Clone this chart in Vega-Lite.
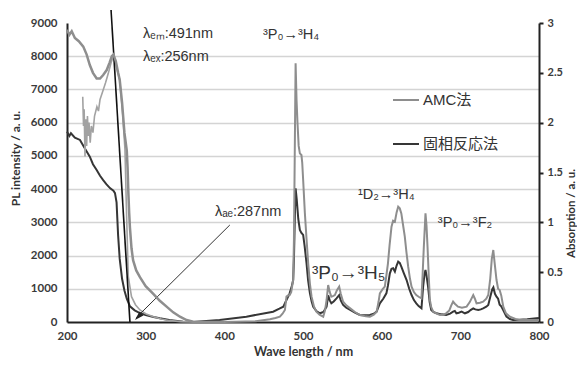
{
  "$schema": "https://vega.github.io/schema/vega-lite/v6.json",
  "width": 472,
  "height": 299,
  "autosize": {"type": "none"},
  "padding": {"left": 67, "top": 23, "right": 38, "bottom": 43},
  "background": "white",
  "config": {"view": {"stroke": null}, "font": "Liberation Sans"},
  "datasets": {
    "pl": [
      {"curve":"ex_ss","series":"固相反応法","x":200,"y":5730},{"curve":"ex_ss","series":"固相反応法","x":203,"y":5600},{"curve":"ex_ss","series":"固相反応法","x":205,"y":5680},{"curve":"ex_ss","series":"固相反応法","x":210,"y":5550},{"curve":"ex_ss","series":"固相反応法","x":216.5,"y":5480},{"curve":"ex_ss","series":"固相反応法","x":222,"y":5250},{"curve":"ex_ss","series":"固相反応法","x":229,"y":4976},{"curve":"ex_ss","series":"固相反応法","x":233,"y":4750},{"curve":"ex_ss","series":"固相反応法","x":237.7,"y":4575},{"curve":"ex_ss","series":"固相反応法","x":242,"y":4400},{"curve":"ex_ss","series":"固相反応法","x":246,"y":4270},{"curve":"ex_ss","series":"固相反応法","x":250,"y":4150},{"curve":"ex_ss","series":"固相反応法","x":254.6,"y":4030},{"curve":"ex_ss","series":"固相反応法","x":259,"y":3950},{"curve":"ex_ss","series":"固相反応法","x":261,"y":3880},{"curve":"ex_ss","series":"固相反応法","x":263,"y":3600},{"curve":"ex_ss","series":"固相反応法","x":265,"y":2600},{"curve":"ex_ss","series":"固相反応法","x":267,"y":1900},{"curve":"ex_ss","series":"固相反応法","x":270,"y":1300},{"curve":"ex_ss","series":"固相反応法","x":273,"y":950},{"curve":"ex_ss","series":"固相反応法","x":276,"y":700},{"curve":"ex_ss","series":"固相反応法","x":280,"y":470},{"curve":"ex_ss","series":"固相反応法","x":286,"y":350},{"curve":"ex_ss","series":"固相反応法","x":292.7,"y":270},{"curve":"ex_ss","series":"固相反応法","x":300,"y":210},{"curve":"ex_ss","series":"固相反応法","x":310,"y":150},{"curve":"ex_ss","series":"固相反応法","x":318,"y":110},{"curve":"ex_ss","series":"固相反応法","x":330,"y":60},{"curve":"ex_ss","series":"固相反応法","x":348,"y":10},{"curve":"ex_ss","series":"固相反応法","x":370,"y":0},
      {"curve":"em_ss","series":"固相反応法","x":360,"y":0},{"curve":"em_ss","series":"固相反応法","x":394,"y":60},{"curve":"em_ss","series":"固相反応法","x":428,"y":160},{"curve":"em_ss","series":"固相反応法","x":462,"y":310},{"curve":"em_ss","series":"固相反応法","x":470,"y":400},{"curve":"em_ss","series":"固相反応法","x":475,"y":461},{"curve":"em_ss","series":"固相反応法","x":479,"y":662},{"curve":"em_ss","series":"固相反応法","x":483,"y":863},{"curve":"em_ss","series":"固相反応法","x":486,"y":1100},{"curve":"em_ss","series":"固相反応法","x":487.5,"y":1264},{"curve":"em_ss","series":"固相反応法","x":488.5,"y":1900},{"curve":"em_ss","series":"固相反応法","x":489.5,"y":3000},{"curve":"em_ss","series":"固相反応法","x":490.6,"y":4024},{"curve":"em_ss","series":"固相反応法","x":492,"y":3700},{"curve":"em_ss","series":"固相反応法","x":494,"y":3100},{"curve":"em_ss","series":"固相反応法","x":496,"y":2770},{"curve":"em_ss","series":"固相反応法","x":498,"y":2680},{"curve":"em_ss","series":"固相反応法","x":500.2,"y":2620},{"curve":"em_ss","series":"固相反応法","x":502,"y":2300},{"curve":"em_ss","series":"固相反応法","x":504.5,"y":1766},{"curve":"em_ss","series":"固相反応法","x":506.5,"y":1250},{"curve":"em_ss","series":"固相反応法","x":508.8,"y":863},{"curve":"em_ss","series":"固相反応法","x":511,"y":620},{"curve":"em_ss","series":"固相反応法","x":513,"y":461},{"curve":"em_ss","series":"固相反応法","x":517,"y":330},{"curve":"em_ss","series":"固相反応法","x":521.5,"y":262},{"curve":"em_ss","series":"固相反応法","x":526,"y":300},{"curve":"em_ss","series":"固相反応法","x":530,"y":461},{"curve":"em_ss","series":"固相反応法","x":532,"y":800},{"curve":"em_ss","series":"固相反応法","x":534,"y":650},{"curve":"em_ss","series":"固相反応法","x":536,"y":562},{"curve":"em_ss","series":"固相反応法","x":539,"y":620},{"curve":"em_ss","series":"固相反応法","x":542.6,"y":712},{"curve":"em_ss","series":"固相反応法","x":546,"y":812},{"curve":"em_ss","series":"固相反応法","x":548,"y":650},{"curve":"em_ss","series":"固相反応法","x":551,"y":512},{"curve":"em_ss","series":"固相反応法","x":555,"y":430},{"curve":"em_ss","series":"固相反応法","x":560,"y":361},{"curve":"em_ss","series":"固相反応法","x":566,"y":280},{"curve":"em_ss","series":"固相反応法","x":572.3,"y":211},{"curve":"em_ss","series":"固相反応法","x":580,"y":200},{"curve":"em_ss","series":"固相反応法","x":585,"y":211},{"curve":"em_ss","series":"固相反応法","x":590,"y":250},{"curve":"em_ss","series":"固相反応法","x":593.6,"y":311},{"curve":"em_ss","series":"固相反応法","x":597.7,"y":562},{"curve":"em_ss","series":"固相反応法","x":602,"y":700},{"curve":"em_ss","series":"固相反応法","x":606,"y":863},{"curve":"em_ss","series":"固相反応法","x":608,"y":1100},{"curve":"em_ss","series":"固相反応法","x":610.4,"y":1465},{"curve":"em_ss","series":"固相反応法","x":612.5,"y":1600},{"curve":"em_ss","series":"固相反応法","x":614.6,"y":1616},{"curve":"em_ss","series":"固相反応法","x":616.8,"y":1516},{"curve":"em_ss","series":"固相反応法","x":619,"y":1700},{"curve":"em_ss","series":"固相反応法","x":621,"y":1816},{"curve":"em_ss","series":"固相反応法","x":623,"y":1780},{"curve":"em_ss","series":"固相反応法","x":625,"y":1666},{"curve":"em_ss","series":"固相反応法","x":628,"y":1480},{"curve":"em_ss","series":"固相反応法","x":631.7,"y":1264},{"curve":"em_ss","series":"固相反応法","x":635,"y":1000},{"curve":"em_ss","series":"固相反応法","x":638,"y":812},{"curve":"em_ss","series":"固相反応法","x":641,"y":660},{"curve":"em_ss","series":"固相反応法","x":644,"y":562},{"curve":"em_ss","series":"固相反応法","x":647,"y":480},{"curve":"em_ss","series":"固相反応法","x":650.6,"y":411},{"curve":"em_ss","series":"固相反応法","x":652.7,"y":1064},{"curve":"em_ss","series":"固相反応法","x":654.5,"y":1450},{"curve":"em_ss","series":"固相反応法","x":655.7,"y":1566},{"curve":"em_ss","series":"固相反応法","x":657,"y":1400},{"curve":"em_ss","series":"固相反応法","x":659,"y":1064},{"curve":"em_ss","series":"固相反応法","x":661,"y":600},{"curve":"em_ss","series":"固相反応法","x":663,"y":361},{"curve":"em_ss","series":"固相反応法","x":666,"y":300},{"curve":"em_ss","series":"固相反応法","x":669.7,"y":262},{"curve":"em_ss","series":"固相反応法","x":676,"y":230},{"curve":"em_ss","series":"固相反応法","x":682,"y":211},{"curve":"em_ss","series":"固相反応法","x":687,"y":250},{"curve":"em_ss","series":"固相反応法","x":690.8,"y":311},{"curve":"em_ss","series":"固相反応法","x":693,"y":330},{"curve":"em_ss","series":"固相反応法","x":695,"y":262},{"curve":"em_ss","series":"固相反応法","x":698,"y":280},{"curve":"em_ss","series":"固相反応法","x":701.6,"y":311},{"curve":"em_ss","series":"固相反応法","x":705.8,"y":262},{"curve":"em_ss","series":"固相反応法","x":710,"y":300},{"curve":"em_ss","series":"固相反応法","x":713,"y":360},{"curve":"em_ss","series":"固相反応法","x":716.4,"y":411},{"curve":"em_ss","series":"固相反応法","x":719,"y":380},{"curve":"em_ss","series":"固相反応法","x":722.8,"y":361},{"curve":"em_ss","series":"固相反応法","x":726,"y":380},{"curve":"em_ss","series":"固相反応法","x":729,"y":411},{"curve":"em_ss","series":"固相反応法","x":733,"y":460},{"curve":"em_ss","series":"固相反応法","x":735.5,"y":512},{"curve":"em_ss","series":"固相反応法","x":738,"y":750},{"curve":"em_ss","series":"固相反応法","x":740.5,"y":980},{"curve":"em_ss","series":"固相反応法","x":742,"y":1040},{"curve":"em_ss","series":"固相反応法","x":744,"y":850},{"curve":"em_ss","series":"固相反応法","x":746,"y":763},{"curve":"em_ss","series":"固相反応法","x":748,"y":700},{"curve":"em_ss","series":"固相反応法","x":750,"y":520},{"curve":"em_ss","series":"固相反応法","x":752,"y":470},{"curve":"em_ss","series":"固相反応法","x":754,"y":380},{"curve":"em_ss","series":"固相反応法","x":758.6,"y":160},{"curve":"em_ss","series":"固相反応法","x":763,"y":90},{"curve":"em_ss","series":"固相反応法","x":767,"y":60},{"curve":"em_ss","series":"固相反応法","x":775,"y":70},{"curve":"em_ss","series":"固相反応法","x":785,"y":80},{"curve":"em_ss","series":"固相反応法","x":796.7,"y":110},{"curve":"em_ss","series":"固相反応法","x":800,"y":120},
      {"curve":"em_amc","series":"AMC法","x":360,"y":0},{"curve":"em_amc","series":"AMC法","x":400,"y":0},{"curve":"em_amc","series":"AMC法","x":440,"y":20},{"curve":"em_amc","series":"AMC法","x":458,"y":80},{"curve":"em_amc","series":"AMC法","x":465,"y":120},{"curve":"em_amc","series":"AMC法","x":470.6,"y":160},{"curve":"em_amc","series":"AMC法","x":474,"y":250},{"curve":"em_amc","series":"AMC法","x":477,"y":361},{"curve":"em_amc","series":"AMC法","x":479,"y":763},{"curve":"em_amc","series":"AMC法","x":481,"y":800},{"curve":"em_amc","series":"AMC法","x":483,"y":812},{"curve":"em_amc","series":"AMC法","x":485,"y":900},{"curve":"em_amc","series":"AMC法","x":487.5,"y":1264},{"curve":"em_amc","series":"AMC法","x":488.5,"y":2500},{"curve":"em_amc","series":"AMC法","x":489.5,"y":5000},{"curve":"em_amc","series":"AMC法","x":490.6,"y":7786},{"curve":"em_amc","series":"AMC法","x":491.8,"y":6682},{"curve":"em_amc","series":"AMC法","x":493,"y":6000},{"curve":"em_amc","series":"AMC法","x":494.5,"y":5300},{"curve":"em_amc","series":"AMC法","x":496,"y":5077},{"curve":"em_amc","series":"AMC法","x":498,"y":5026},{"curve":"em_amc","series":"AMC法","x":499,"y":4800},{"curve":"em_amc","series":"AMC法","x":500.2,"y":4274},{"curve":"em_amc","series":"AMC法","x":502.4,"y":3270},{"curve":"em_amc","series":"AMC法","x":504.5,"y":2500},{"curve":"em_amc","series":"AMC法","x":506.6,"y":1766},{"curve":"em_amc","series":"AMC法","x":508.8,"y":1150},{"curve":"em_amc","series":"AMC法","x":510.9,"y":763},{"curve":"em_amc","series":"AMC法","x":514,"y":460},{"curve":"em_amc","series":"AMC法","x":517,"y":311},{"curve":"em_amc","series":"AMC法","x":521,"y":220},{"curve":"em_amc","series":"AMC法","x":525.7,"y":160},{"curve":"em_amc","series":"AMC法","x":528,"y":350},{"curve":"em_amc","series":"AMC法","x":530,"y":662},{"curve":"em_amc","series":"AMC法","x":532,"y":1114},{"curve":"em_amc","series":"AMC法","x":534,"y":900},{"curve":"em_amc","series":"AMC法","x":536,"y":763},{"curve":"em_amc","series":"AMC法","x":538,"y":780},{"curve":"em_amc","series":"AMC法","x":540.5,"y":812},{"curve":"em_amc","series":"AMC法","x":543,"y":950},{"curve":"em_amc","series":"AMC法","x":546,"y":1064},{"curve":"em_amc","series":"AMC法","x":548,"y":850},{"curve":"em_amc","series":"AMC法","x":551,"y":612},{"curve":"em_amc","series":"AMC法","x":555,"y":500},{"curve":"em_amc","series":"AMC法","x":560,"y":411},{"curve":"em_amc","series":"AMC法","x":566,"y":300},{"curve":"em_amc","series":"AMC法","x":572.3,"y":211},{"curve":"em_amc","series":"AMC法","x":580,"y":170},{"curve":"em_amc","series":"AMC法","x":585,"y":160},{"curve":"em_amc","series":"AMC法","x":590,"y":220},{"curve":"em_amc","series":"AMC法","x":593.6,"y":311},{"curve":"em_amc","series":"AMC法","x":596,"y":600},{"curve":"em_amc","series":"AMC法","x":597.7,"y":863},{"curve":"em_amc","series":"AMC法","x":601,"y":980},{"curve":"em_amc","series":"AMC法","x":604,"y":1064},{"curve":"em_amc","series":"AMC法","x":606,"y":1400},{"curve":"em_amc","series":"AMC法","x":608,"y":1766},{"curve":"em_amc","series":"AMC法","x":610,"y":2300},{"curve":"em_amc","series":"AMC法","x":612.5,"y":2870},{"curve":"em_amc","series":"AMC法","x":614.5,"y":3050},{"curve":"em_amc","series":"AMC法","x":616.8,"y":3020},{"curve":"em_amc","series":"AMC法","x":619,"y":3300},{"curve":"em_amc","series":"AMC法","x":621,"y":3471},{"curve":"em_amc","series":"AMC法","x":623,"y":3420},{"curve":"em_amc","series":"AMC法","x":625,"y":3270},{"curve":"em_amc","series":"AMC法","x":627,"y":2950},{"curve":"em_amc","series":"AMC法","x":629.4,"y":2570},{"curve":"em_amc","series":"AMC法","x":631.5,"y":2100},{"curve":"em_amc","series":"AMC法","x":633.7,"y":1666},{"curve":"em_amc","series":"AMC法","x":636,"y":1300},{"curve":"em_amc","series":"AMC法","x":638,"y":1064},{"curve":"em_amc","series":"AMC法","x":641,"y":900},{"curve":"em_amc","series":"AMC法","x":644,"y":812},{"curve":"em_amc","series":"AMC法","x":647,"y":760},{"curve":"em_amc","series":"AMC法","x":650.6,"y":712},{"curve":"em_amc","series":"AMC法","x":652,"y":1400},{"curve":"em_amc","series":"AMC法","x":653.6,"y":2267},{"curve":"em_amc","series":"AMC法","x":655.7,"y":3270},{"curve":"em_amc","series":"AMC法","x":657,"y":2900},{"curve":"em_amc","series":"AMC法","x":658.3,"y":2267},{"curve":"em_amc","series":"AMC法","x":660,"y":1300},{"curve":"em_amc","series":"AMC法","x":661.3,"y":662},{"curve":"em_amc","series":"AMC法","x":663,"y":450},{"curve":"em_amc","series":"AMC法","x":665.5,"y":311},{"curve":"em_amc","series":"AMC法","x":670,"y":250},{"curve":"em_amc","series":"AMC法","x":674,"y":211},{"curve":"em_amc","series":"AMC法","x":678,"y":220},{"curve":"em_amc","series":"AMC法","x":682,"y":262},{"curve":"em_amc","series":"AMC法","x":686,"y":350},{"curve":"em_amc","series":"AMC法","x":688.5,"y":500},{"curve":"em_amc","series":"AMC法","x":690.8,"y":612},{"curve":"em_amc","series":"AMC法","x":693,"y":550},{"curve":"em_amc","series":"AMC法","x":697,"y":461},{"curve":"em_amc","series":"AMC法","x":702,"y":430},{"curve":"em_amc","series":"AMC法","x":708,"y":461},{"curve":"em_amc","series":"AMC法","x":712,"y":600},{"curve":"em_amc","series":"AMC法","x":716.4,"y":812},{"curve":"em_amc","series":"AMC法","x":718.5,"y":700},{"curve":"em_amc","series":"AMC法","x":720.6,"y":562},{"curve":"em_amc","series":"AMC法","x":725,"y":580},{"curve":"em_amc","series":"AMC法","x":729,"y":612},{"curve":"em_amc","series":"AMC法","x":733,"y":700},{"curve":"em_amc","series":"AMC法","x":735.5,"y":812},{"curve":"em_amc","series":"AMC法","x":738,"y":1300},{"curve":"em_amc","series":"AMC法","x":740,"y":1900},{"curve":"em_amc","series":"AMC法","x":741.9,"y":2167},{"curve":"em_amc","series":"AMC法","x":743.5,"y":1800},{"curve":"em_amc","series":"AMC法","x":746,"y":1264},{"curve":"em_amc","series":"AMC法","x":748,"y":1000},{"curve":"em_amc","series":"AMC法","x":750,"y":963},{"curve":"em_amc","series":"AMC法","x":752,"y":800},{"curve":"em_amc","series":"AMC法","x":754.6,"y":461},{"curve":"em_amc","series":"AMC法","x":758,"y":260},{"curve":"em_amc","series":"AMC法","x":763,"y":160},{"curve":"em_amc","series":"AMC法","x":770,"y":90},{"curve":"em_amc","series":"AMC法","x":775,"y":60},{"curve":"em_amc","series":"AMC法","x":785,"y":60},{"curve":"em_amc","series":"AMC法","x":800,"y":60},
      {"curve":"ex_amc","series":"AMC法","x":220,"y":6780},{"curve":"ex_amc","series":"AMC法","x":221,"y":5900},{"curve":"ex_amc","series":"AMC法","x":221.8,"y":6400},{"curve":"ex_amc","series":"AMC法","x":222.9,"y":4980},{"curve":"ex_amc","series":"AMC法","x":224,"y":6100},{"curve":"ex_amc","series":"AMC法","x":225,"y":5300},{"curve":"ex_amc","series":"AMC法","x":226,"y":6200},{"curve":"ex_amc","series":"AMC法","x":227,"y":5600},{"curve":"ex_amc","series":"AMC法","x":228,"y":6000},{"curve":"ex_amc","series":"AMC法","x":229.5,"y":5400},{"curve":"ex_amc","series":"AMC法","x":231,"y":5900},{"curve":"ex_amc","series":"AMC法","x":233,"y":5700},{"curve":"ex_amc","series":"AMC法","x":235,"y":6200},{"curve":"ex_amc","series":"AMC法","x":238,"y":6480},{"curve":"ex_amc","series":"AMC法","x":240,"y":6350},{"curve":"ex_amc","series":"AMC法","x":242,"y":6700},{"curve":"ex_amc","series":"AMC法","x":246,"y":6980},{"curve":"ex_amc","series":"AMC法","x":249,"y":7200},{"curve":"ex_amc","series":"AMC法","x":252.5,"y":7485},{"curve":"ex_amc","series":"AMC法","x":256,"y":7800},{"curve":"ex_amc","series":"AMC法","x":258.8,"y":8000},{"curve":"ex_amc","series":"AMC法","x":262,"y":7750},{"curve":"ex_amc","series":"AMC法","x":267,"y":7284},{"curve":"ex_amc","series":"AMC法","x":271,"y":6200},{"curve":"ex_amc","series":"AMC法","x":273.7,"y":5177},{"curve":"ex_amc","series":"AMC法","x":275.8,"y":3170},{"curve":"ex_amc","series":"AMC法","x":277.9,"y":1365},{"curve":"ex_amc","series":"AMC法","x":282,"y":763},{"curve":"ex_amc","series":"AMC法","x":287,"y":520},{"curve":"ex_amc","series":"AMC法","x":292.7,"y":361},{"curve":"ex_amc","series":"AMC法","x":300,"y":250},{"curve":"ex_amc","series":"AMC法","x":309.7,"y":160},{"curve":"ex_amc","series":"AMC法","x":320,"y":90},{"curve":"ex_amc","series":"AMC法","x":331,"y":40},{"curve":"ex_amc","series":"AMC法","x":345,"y":10},{"curve":"ex_amc","series":"AMC法","x":360,"y":0},{"curve":"ex_amc","series":"AMC法","x":400,"y":0}
    ],
    "abs": [
      {"x":200,"a":2.933},{"x":203,"a":2.883},{"x":206,"a":2.917},{"x":210,"a":2.85},{"x":215,"a":2.817},{"x":220.7,"a":2.763},{"x":225,"a":2.683},{"x":229,"a":2.578},{"x":233,"a":2.5},{"x":237.7,"a":2.443},{"x":242,"a":2.443},{"x":246,"a":2.478},{"x":250.5,"a":2.528},{"x":254,"a":2.6},{"x":257,"a":2.667},{"x":259,"a":2.683},{"x":262,"a":2.617},{"x":265,"a":2.5},{"x":267,"a":2.43},{"x":270,"a":2.2},{"x":273,"a":1.9},{"x":276,"a":1.72},{"x":277,"a":1.55},{"x":278,"a":1.3},{"x":279,"a":1.1},{"x":280,"a":0.95},{"x":282,"a":0.74},{"x":284,"a":0.62},{"x":288,"a":0.517},{"x":292.7,"a":0.45},{"x":300,"a":0.36},{"x":309.7,"a":0.283},{"x":318,"a":0.213},{"x":326.6,"a":0.154},{"x":335,"a":0.097},{"x":343.6,"a":0.053},{"x":352,"a":0.02},{"x":360.5,"a":0.003},{"x":380,"a":0},{"x":400,"a":0}
    ],
    "tangent": [{"x":256,"y":9391},{"x":280,"y":0}],
    "arrow": [{"x":407,"y":2920},{"x":288,"y":130}],
    "arrowhead": [{"x":286.4,"y":60}],
    "labels": [
      {"x":296.6,"y":8660,"text":"λₑₘ:491nm"},
      {"x":296.6,"y":7986,"text":"λₑₓ:256nm"},
      {"x":449,"y":8640,"text":"³P₀→³H₄"},
      {"x":569.8,"y":3823,"text":"¹D₂→³H₄"},
      {"x":671.4,"y":2980,"text":"³P₀→³F₂"},
      {"x":388,"y":3311,"text":"λₐₑ:287nm"}
    ],
    "labelsBig": [
      {"x":511.3,"y":1475,"text":"³P₀→³H₅"}
    ]
  },
  "encoding": {
    "x": {
      "field": "x", "type": "quantitative",
      "scale": {"domain": [200, 800], "nice": false, "zero": false},
      "axis": {
        "values": [200, 300, 400, 500, 600, 700, 800], "format": "d", "labelFlush": false,
        "title": "Wave length / nm", "titleFont": "Lato", "titleFontSize": 12.5, "titleFontWeight": "bold", "titleColor": "#333", "titlePadding": 4,
        "labelFont": "Lato", "labelFontSize": 11.5, "labelFontWeight": "bold", "labelColor": "#3a3a3a", "labelPadding": 8,
        "ticks": false, "grid": false, "domainColor": "#222", "domainWidth": 2
      }
    }
  },
  "layer": [
    {
      "encoding": {
        "y": {
          "field": "y", "type": "quantitative",
          "scale": {"domain": [0, 9000], "nice": false},
          "axis": {
            "orient": "left", "values": [0, 1000, 2000, 3000, 4000, 5000, 6000, 7000, 8000, 9000], "format": "d", "labelFlush": false,
            "title": "PL intensity / a. u.", "titleFont": "Lato", "titleFontSize": 12, "titleFontWeight": "bold", "titleColor": "#333", "titlePadding": 8, "titleY": 135,
            "labelFont": "Lato", "labelFontSize": 11.5, "labelFontWeight": "bold", "labelColor": "#3a3a3a", "labelPadding": 10,
            "ticks": false, "domainColor": "#222", "domainWidth": 2,
            "grid": true, "gridColor": "#d4d4d4", "gridWidth": 1.3,
            "gridOpacity": {"condition": {"test": "datum.value >= 9000 || datum.value <= 0", "value": 0}, "value": 1}
          }
        }
      },
      "layer": [
        {
          "data": {"name": "pl"},
          "transform": [{"filter": "datum.curve != 'ex_amc'"}],
          "mark": {"type": "line", "strokeWidth": 2},
          "encoding": {
            "color": {
              "field": "series", "type": "nominal",
              "scale": {"domain": ["AMC法", "固相反応法"], "range": ["#8e8e8e", "#363636"]},
              "legend": {
                "orient": "none", "legendX": 325, "legendY": 63, "title": null, "padding": 0,
                "symbolType": "stroke", "symbolSize": 676, "symbolStrokeWidth": 2,
                "labelFont": "Liberation Sans, Noto Sans CJK JP", "labelFontSize": 15, "labelColor": "#333",
                "labelOffset": 3, "rowPadding": 22
              }
            },
            "detail": {"field": "curve", "type": "nominal"}
          }
        },
        {
          "data": {"name": "pl"},
          "transform": [{"filter": "datum.curve == 'ex_amc'"}],
          "mark": {"type": "line", "strokeWidth": 1.6, "color": "#a2a2a2"},
          "encoding": {}
        },
        {
          "data": {"name": "tangent"},
          "mark": {"type": "line", "strokeWidth": 1.6, "color": "#111", "clip": false},
          "encoding": {}
        },
        {
          "data": {"name": "arrow"},
          "mark": {"type": "line", "strokeWidth": 1, "color": "#333"},
          "encoding": {}
        },
        {
          "data": {"name": "arrowhead"},
          "mark": {"type": "point", "shape": "M0,0L-0.8,2.6L0.8,2.6Z", "size": 50, "angle": 225, "filled": true, "color": "#222", "opacity": 1},
          "encoding": {}
        },
        {
          "data": {"name": "labels"},
          "mark": {"type": "text", "align": "left", "baseline": "middle", "font": "Liberation Sans", "fontSize": 14.5, "color": "#333"},
          "encoding": {"text": {"field": "text"}}
        },
        {
          "data": {"name": "labelsBig"},
          "mark": {"type": "text", "align": "left", "baseline": "middle", "font": "Liberation Sans", "fontSize": 19, "color": "#333"},
          "encoding": {"text": {"field": "text"}}
        }
      ]
    },
    {
      "data": {"name": "abs"},
      "mark": {"type": "line", "strokeWidth": 2.5, "color": "#8e8e8e"},
      "encoding": {
        "y": {
          "field": "a", "type": "quantitative",
          "scale": {"domain": [0, 3], "nice": false},
          "axis": {
            "orient": "right", "values": [0, 0.5, 1, 1.5, 2, 2.5, 3], "format": "~g", "labelFlush": false,
            "title": "Absorption / a. u.", "titleFont": "Lato", "titleFontSize": 11.5, "titleFontWeight": "bold", "titleColor": "#333",
            "titleAngle": 270, "titleBaseline": "top", "titleX": 26, "titleY": 190,
            "labelFont": "Lato", "labelFontSize": 11, "labelFontWeight": "bold", "labelColor": "#3a3a3a", "labelPadding": 4,
            "ticks": true, "tickSize": 4, "tickWidth": 2, "tickColor": "#222",
            "domainColor": "#222", "domainWidth": 2, "grid": false
          }
        }
      }
    }
  ],
  "resolve": {"scale": {"y": "independent"}}
}
